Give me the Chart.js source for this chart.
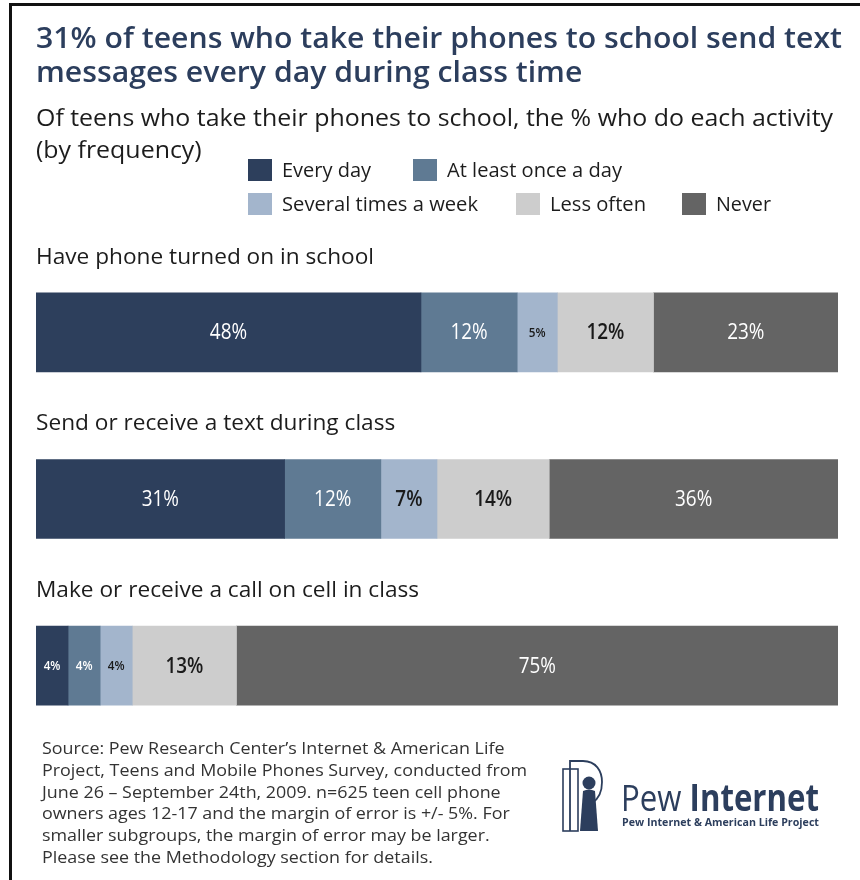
<!DOCTYPE html>
<html>
<head>
<meta charset="utf-8">
<script src="https://cdn.jsdelivr.net/npm/chart.js@4.4.1/dist/chart.umd.min.js"></script>
<style>
  html, body { margin: 0; padding: 0; background: #fff; }
  body { width: 860px; height: 880px; position: relative; overflow: hidden; font-family: "Open Sans", sans-serif; }
  #frame { position: absolute; left: 9px; top: 3px; width: 900px; height: 900px; border-top: 3px solid #111; border-left: 3px solid #111; box-sizing: border-box; }
  #chart { position: absolute; left: 0; top: 0; }
  .t { position: absolute; white-space: nowrap; display: inline-block; transform-origin: 0 50%; }
  .title { color: #2c3e5d; font-size: 29px; font-weight: 600; line-height: 32px; }
  .sub { color: #1c1c1c; font-size: 23px; line-height: 30px; }
  .leg { color: #1c1c1c; font-size: 19.5px; line-height: 26px; }
  .sw { position: absolute; width: 24px; height: 22px; }
  .src { color: #333; font-size: 16.5px; line-height: 22px; }
  .logo1 { color: #2c3e5d; font-size: 37px; line-height: 40px; }
  .logo1 b { font-weight: 700; }
  .logo2 { color: #2c3e5d; font-size: 11px; font-weight: 700; line-height: 14px; }
</style>
</head>
<body>
<div id="frame"></div>
<canvas id="chart" width="860" height="880"></canvas>

<div class="t title" id="ti1" style="left:36px; top:21px;">31% of teens who take their phones to school send text</div>
<div class="t title" id="ti2" style="left:36px; top:55px;">messages every day during class time</div>
<div class="t sub" id="su1" style="left:36px; top:102px;">Of teens who take their phones to school, the % who do each activity</div>
<div class="t sub" id="su2" style="left:36px; top:134px;">(by frequency)</div>
<div id="legend"></div>

<div id="source"></div>

<svg style="position:absolute; left:555px; top:752px;" width="60" height="90" viewBox="555 752 60 90">
  <rect x="563" y="769" width="15" height="62" fill="none" stroke="#2c3e5d" stroke-width="1.6"/>
  <path d="M570 831 V761 H583 C596 761 602 771 602 782 C602 793 597 800 592 803" fill="none" stroke="#2c3e5d" stroke-width="1.8"/>
  <circle cx="589" cy="783" r="6.5" fill="#2c3e5d"/>
  <path d="M583 791 Q589 788 595 791 L598 831 L580 831 Z" fill="#2c3e5d"/>
</svg>
<div class="t logo1" id="lg1" style="left:621px; top:777px;">Pew <b>Internet</b></div>
<div class="t logo2" id="lg2" style="left:622px; top:815px;">Pew Internet &amp; American Life Project</div>

<script>
// ---- data ----
const categories = [
  "Have phone turned on in school",
  "Send or receive a text during class",
  "Make or receive a call on cell in class"
];
const seriesNames = ["Every day", "At least once a day", "Several times a week", "Less often", "Never"];
const everyDay      = [48, 31, 4];
const atLeastOnce   = [12, 12, 4];
const severalWeek   = [5, 7, 4];
const lessOften     = [12, 14, 13];
const never         = [23, 36, 75];
const sourceLines = [
  "Source: Pew Research Center’s Internet & American Life",
  "Project, Teens and Mobile Phones Survey, conducted from",
  "June 26 – September 24th, 2009. n=625 teen cell phone",
  "owners ages 12-17 and the margin of error is +/- 5%. For",
  "smaller subgroups, the margin of error may be larger.",
  "Please see the Methodology section for details."
];

// ---- styles ----
const colors = ["#2d3f5c", "#5f7a93", "#a3b5cc", "#cdcdcd", "#646464"];
const labelColors = ["#ffffff", "#ffffff", "#1a1a1a", "#1a1a1a", "#ffffff"];
const labelWeights = ["400", "400", "600", "600", "400"];
const seriesValues = [everyDay, atLeastOnce, severalWeek, lessOften, never];

function fit(el, w) {
  const r = el.getBoundingClientRect().width;
  el.style.transform = "scaleX(" + (w / r) + ")";
}

// legend (HTML)
const legendPos = [
  { x: 248, y: 159, tw: 89 },
  { x: 413, y: 159, tw: 175 },
  { x: 248, y: 193, tw: 196 },
  { x: 516, y: 193, tw: 96 },
  { x: 682, y: 193, tw: 55 }
];
const legendEl = document.getElementById("legend");
seriesNames.forEach((name, i) => {
  const p = legendPos[i];
  const sw = document.createElement("div");
  sw.className = "sw";
  sw.style.left = p.x + "px";
  sw.style.top = p.y + "px";
  sw.style.background = colors[i];
  legendEl.appendChild(sw);
  const t = document.createElement("div");
  t.className = "t leg";
  t.style.left = (p.x + 34) + "px";
  t.style.top = (p.y - 2) + "px";
  t.textContent = name;
  legendEl.appendChild(t);
  fit(t, p.tw);
});

// source
const srcEl = document.getElementById("source");
const srcEls = sourceLines.map((line, i) => {
  const t = document.createElement("div");
  t.className = "t src";
  t.style.left = "42px";
  t.style.top = (737 + i * 21.8) + "px";
  t.textContent = line;
  srcEl.appendChild(t);
  return t;
});
const srcScale = 485 / srcEls[1].getBoundingClientRect().width;
srcEls.forEach(e => e.style.transform = "scaleX(" + srcScale + ")");

// titles
const titleScale = 806 / document.getElementById("ti1").getBoundingClientRect().width;
["ti1", "ti2"].forEach(id => document.getElementById(id).style.transform = "scaleX(" + titleScale + ")");
const subScale = 797 / document.getElementById("su1").getBoundingClientRect().width;
["su1", "su2"].forEach(id => document.getElementById(id).style.transform = "scaleX(" + subScale + ")");
fit(document.getElementById("lg1"), 198);
fit(document.getElementById("lg2"), 197);

// ---- chart ----
const BAR_H = 79;
const labelPlugin = {
  id: "labels",
  afterDatasetsDraw(chart) {
    const ctx = chart.ctx;
    ctx.save();
    // category labels above bars
    ctx.font = "21px 'Open Sans'";
    ctx.fillStyle = "#1c1c1c";
    ctx.textBaseline = "middle";
    ctx.textAlign = "left";
    const catScale = 338 / ctx.measureText(categories[0]).width;
    const meta0 = chart.getDatasetMeta(0);
    meta0.data.forEach((el, j) => {
      ctx.save();
      ctx.translate(chart.chartArea.left, el.y - BAR_H / 2 - 35);
      ctx.scale(catScale, 1);
      ctx.fillText(chart.data.labels[j], 0, 0);
      ctx.restore();
    });
    // value labels
    chart.data.datasets.forEach((ds, i) => {
      const meta = chart.getDatasetMeta(i);
      meta.data.forEach((el, j) => {
        const v = ds.data[j];
        const small = v <= 5;
        ctx.font = (small ? "600 13px" : labelWeights[i] + " 21px") + " 'Open Sans'";
        ctx.fillStyle = labelColors[i];
        ctx.textAlign = "center";
        ctx.save();
        ctx.translate((el.x + el.base) / 2, el.y + 1);
        ctx.scale(0.9, 1);
        ctx.fillText(v + "%", 0, 0);
        ctx.restore();
      });
    });
    ctx.restore();
  }
};

new Chart(document.getElementById("chart"), {
  type: "bar",
  data: {
    labels: categories,
    datasets: seriesNames.map((name, i) => ({
      label: name,
      data: seriesValues[i],
      backgroundColor: colors[i],
      borderWidth: 0,
      barThickness: BAR_H
    }))
  },
  options: {
    indexAxis: "y",
    responsive: false,
    animation: false,
    layout: { padding: { left: 36, right: 22, top: 249, bottom: 131 } },
    scales: {
      x: { stacked: true, min: 0, max: 100, display: false },
      y: { stacked: true, display: false }
    },
    plugins: { legend: { display: false }, tooltip: { enabled: false } }
  },
  plugins: [labelPlugin]
});
</script>
</body>
</html>
